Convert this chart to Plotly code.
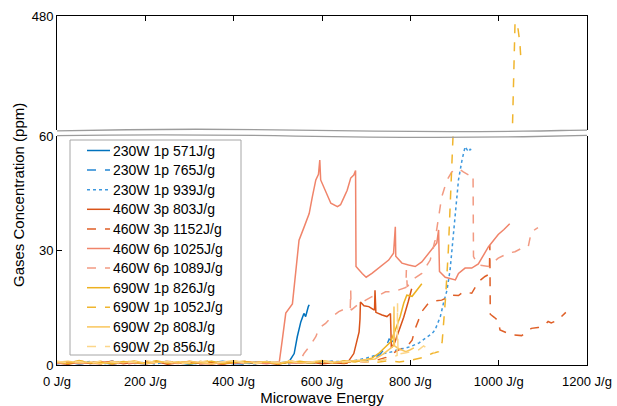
import plotly.graph_objects as go

# ---------------- data ----------------
grid = [0, 25, 50, 75, 100, 125, 150, 175, 200, 225, 250, 275, 300, 325, 350, 375,
        400, 425, 450, 475, 500, 525, 550, 575, 600, 625, 650, 675, 700, 725, 750, 775]

labels = ["230W 1p 571J/g", "230W 1p 765J/g", "230W 1p 939J/g",
          "460W 3p 803J/g", "460W 3p 1152J/g", "460W 6p 1025J/g", "460W 6p 1089J/g",
          "690W 1p 826J/g", "690W 1p 1052J/g", "690W 2p 808J/g", "690W 2p 856J/g"]

e_230_571 = grid[:21] + [525, 537, 544, 552, 559, 563, 569, 571]
v_230_571 = [0.6, 0.3, 0.9, 0.4, 0.7, 0.2, 0.8, 0.5, 0.3, 0.9, 0.4, 0.6, 0.2, 0.7, 0.5, 0.8, 0.3, 0.6, 0.4, 0.9, 0.5,
             0.8, 3.0, 7.4, 11.3, 13.5, 12.7, 15.3, 15.8]

e_230_765 = grid[:29] + [715, 730, 745, 752, 760, 765]
v_230_765 = [0.4, 0.8, 0.2, 0.7, 0.5, 1.0, 0.3, 0.6, 0.9, 0.2, 0.7, 0.4, 0.8, 0.3, 0.6, 1.0, 0.5, 0.2, 0.8, 0.4,
             0.7, 0.3, 0.9, 0.5, 0.6, 1.1, 0.8, 1.2, 1.0,
             1.8, 2.6, 4.8, 6.8, 6.2, 5.9]

e_230_939 = grid[:27] + [675, 700, 720, 744, 760, 775, 789, 804, 820, 834, 849, 856, 862, 868, 875, 883, 890, 896,
                         902, 909, 917, 924, 928, 932, 936, 939]
v_230_939 = [0.3, 0.7, 0.5, 0.9, 0.2, 0.6, 0.8, 0.4, 0.7, 0.3, 1.0, 0.5, 0.6, 0.2, 0.9, 0.4, 0.7, 0.5, 0.3, 0.8,
             0.6, 0.4, 0.9, 0.5, 0.7, 0.8, 1.0,
             1.2, 1.8, 2.5, 3.0, 3.5, 4.2, 4.4, 5.0, 5.8, 7.0, 8.2, 9.2, 11.0, 12.7, 16.2, 19.6, 24.9, 32.7,
             41.5, 48.5, 53.7, 57.2, 56.5, 55.9, 56.6, 55.8]

e_460_803 = grid[:27] + [657, 672, 684, 686, 687, 695, 706, 717, 719, 720, 721, 722, 736, 747, 755, 757, 765, 775,
                         785, 795, 803]
v_460_803 = [0.5, 0.2, 0.8, 0.4, 0.6, 1.0, 0.3, 0.7, 0.5, 0.9, 0.2, 0.6, 0.8, 0.4, 0.7, 0.3, 0.5, 0.9, 0.4, 0.6,
             0.2, 0.8, 0.5, 0.7, 0.3, 0.6, 0.4,
             0.5, 3.0, 8.7, 12.0, 16.5, 15.5, 15.3, 14.5, 14.5, 19.6, 14.2, 13.8, 13.1, 12.7, 13.5, 4.5, 6.0, 9.0,
             12.5, 16.5, 20.0]

e_460_1152 = grid[:30] + [745, 760, 774, 789, 804, 811, 826, 841, 856, 871, 894, 909, 920, 939, 954, 969, 979, 980,
                          981, 990, 999, 1003, 1018, 1029, 1052, 1067, 1074, 1089, 1104, 1112, 1119, 1134, 1146, 1152]
v_460_1152 = [0.7, 0.4, 0.9, 0.3, 0.6, 0.8, 0.2, 0.5, 1.0, 0.4, 0.7, 0.3, 0.6, 0.9, 0.5, 0.2, 0.8, 0.4, 0.6, 1.0,
              0.3, 0.7, 0.5, 0.8, 0.4, 0.9, 0.6, 1.0, 0.8, 1.3,
              2.0, 3.0, 4.0, 4.4, 6.5, 9.5, 14.0, 16.2, 16.8, 17.0, 18.3, 18.2, 19.2, 18.8, 21.8, 23.2, 23.8, 31.4,
              13.3, 12.5, 11.6, 9.2, 8.5, 7.9, 7.7, 9.0, 9.6, 9.8, 10.4, 11.4, 11.0, 11.8, 13.1, 13.8]

e_460_1025 = grid[:21] + [503, 510, 518, 533, 541, 548, 559, 571, 578, 586, 592, 595, 597, 608, 620, 635, 642, 650,
                          657, 665, 672, 676, 677, 691, 700, 713, 729, 751, 762, 766, 767, 781, 796, 811, 826, 838,
                          853, 860, 864, 866, 879, 902, 909, 924, 939, 954, 977, 999, 1012, 1025]
v_460_1025 = [0.4, 0.8, 0.3, 0.6, 0.9, 0.2, 0.7, 0.5, 0.3, 0.8, 0.6, 0.4, 1.0, 0.5, 0.2, 0.7, 0.4, 0.9, 0.6, 0.3, 0.7,
              0.5, 6.5, 13.6, 16.0, 24.0, 32.7, 36.0, 39.7, 44.0, 48.5, 50.0, 53.7, 48.5, 45.8, 42.4, 41.5, 42.0,
              44.0, 45.8, 49.0, 49.8, 51.0, 25.8, 24.0, 23.0, 24.0, 25.4, 27.5, 29.3, 36.2, 28.5, 26.7, 26.2, 25.8,
              27.0, 28.8, 31.0, 32.0, 35.4, 24.5, 23.0, 22.3, 24.0, 25.4, 25.4, 26.5, 31.0, 34.2, 35.5, 37.0]

e_460_1089 = grid[:22] + [548, 559, 571, 586, 593, 608, 623, 638, 653, 664, 665, 666, 680, 699, 713, 729, 744, 762,
                          774, 790, 791, 793, 804, 826, 845, 856, 871, 883, 894, 909, 920, 932, 939, 942, 943, 954,
                          977, 984, 999, 1022, 1037, 1052, 1067, 1074, 1082, 1089]
v_460_1089 = [0.6, 0.3, 0.8, 0.5, 0.2, 0.9, 0.4, 0.7, 0.3, 0.6, 1.0, 0.5, 0.8, 0.2, 0.6, 0.4, 0.9, 0.3, 0.7, 0.5,
              0.8, 0.4,
              0.6, 3.0, 4.8, 7.4, 9.6, 10.9, 12.7, 14.0, 14.8, 14.6, 19.6, 14.4, 15.7, 17.0, 17.9, 18.3, 19.2, 19.2,
              19.6, 20.3, 24.9, 20.5, 22.3, 24.0, 27.5, 32.7, 44.0, 48.5, 50.6, 51.5, 50.6, 49.8, 50.0, 50.0, 28.4,
              26.2, 25.8, 26.6, 28.0, 29.3, 29.7, 30.6, 31.0, 35.0, 35.5, 36.0]

e_690_826 = grid[:28] + [700, 713, 730, 744, 755, 766, 777, 785, 792, 804, 815, 823, 826]
v_690_826 = [0.8, 0.4, 1.0, 0.5, 0.7, 0.3, 0.9, 0.6, 0.4, 1.1, 0.5, 0.8, 0.3, 0.7, 1.0, 0.4, 0.6, 0.9, 0.5, 0.8,
             0.3, 0.7, 1.0, 0.6, 0.9, 0.5, 1.1, 0.8,
             1.4, 1.8, 3.2, 4.8, 6.0, 9.2, 12.7, 16.2, 18.3, 18.0, 19.6, 21.0, 21.3]

e_690_1052 = grid[:32] + [800, 830, 849, 864, 872, 876, 880, 886, 892, 898, 902, 960, 1020, 1031, 1037, 1042, 1048,
                          1051]
v_690_1052 = [0.9, 0.5, 1.2, 0.6, 0.8, 0.4, 1.0, 0.7, 0.5, 1.1, 0.6, 0.9, 0.4, 0.8, 1.2, 0.5, 0.7, 1.0, 0.6, 0.9,
              0.4, 1.1, 0.7, 0.5, 1.0, 0.8, 0.6, 1.2, 0.9, 0.7, 1.1, 0.8,
              1.2, 2.0, 3.0, 3.5, 6.0, 12.0, 18.0, 30.0, 45.0, 60.0, 75.0, 100.0, 120.0, 148.0, 459.0, 461.0,
              402.0, 344.0]

e_690_808 = grid[:29] + [720, 740, 755, 762, 763, 764, 775, 790, 800, 808]
v_690_808 = [0.7, 1.0, 0.5, 0.8, 0.3, 0.9, 0.6, 1.1, 0.4, 0.7, 0.9, 0.5, 1.0, 0.6, 0.3, 0.8, 1.1, 0.5, 0.7, 0.9,
             0.4, 1.0, 0.6, 0.8, 1.2, 0.7, 0.9, 1.1, 1.3,
             1.6, 3.0, 4.5, 5.0, 15.3, 5.0, 4.2, 3.5, 4.0, 4.5]

e_690_856 = grid[:30] + [745, 760, 770, 771, 772, 790, 810, 819, 830, 845, 856]
v_690_856 = [1.0, 0.6, 0.9, 0.4, 1.1, 0.7, 0.5, 0.8, 1.2, 0.6, 0.9, 0.3, 0.7, 1.0, 0.5, 0.8, 1.1, 0.6, 0.4, 0.9,
             0.7, 1.2, 0.5, 0.8, 1.0, 0.6, 0.9, 1.1, 0.8, 1.0,
             1.5, 2.0, 2.5, 16.2, 2.8, 3.2, 3.8, 4.0, 5.0, 3.8, 3.0]

x_ticks = [0, 200, 400, 600, 800, 1000, 1200]
x_tick_text = ["0 J/g", "200 J/g", "400 J/g", "600 J/g", "800 J/g", "1000 J/g", "1200 J/g"]
y_ticks_low = [0, 30, 60]
y_ticks_high = [480]

# ---------------- styles ----------------
series = [
    (e_230_571, v_230_571, "#0072BD", "solid"),
    (e_230_765, v_230_765, "#2386D3", "dash"),
    (e_230_939, v_230_939, "#3D98DE", "dot"),
    (e_460_803, v_460_803, "#D95319", "solid"),
    (e_460_1152, v_460_1152, "#DF5F27", "dash"),
    (e_460_1025, v_460_1025, "#F0846A", "solid"),
    (e_460_1089, v_460_1089, "#F29A82", "dash"),
    (e_690_826, v_690_826, "#EDB120", "solid"),
    (e_690_1052, v_690_1052, "#F0B52E", "dash"),
    (e_690_808, v_690_808, "#F9C65C", "solid"),
    (e_690_856, v_690_856, "#FCD68A", "dash"),
]

fig = go.Figure()
for (ex, vy, col, dash), lab in zip(series, labels):
    fig.add_trace(go.Scatter(x=ex, y=vy, mode="lines", name=lab, showlegend=False,
                             line=dict(color=col, width=1.5, dash=dash),
                             xaxis="x", yaxis="y"))
for (ex, vy, col, dash), lab in zip(series, labels):
    fig.add_trace(go.Scatter(x=ex, y=vy, mode="lines", name=lab, showlegend=False,
                             line=dict(color=col, width=1.5, dash=dash),
                             xaxis="x2", yaxis="y2"))

FONT = "Liberation Sans, Arial, sans-serif"
low_top = 0.656
high_bot = 0.672

L, R, T, B, W, H = 57, 30, 16, 41, 617, 406
PW, PH = W - L - R, H - T - B


def px_x(px):
    return (px - L) / PW


def px_y(py):
    return (H - B - py) / PH


common = dict(ticks="inside", ticklen=5, tickcolor="black", showline=True, linecolor="black",
              linewidth=1, showgrid=False, zeroline=False, automargin=False)

fig.update_layout(
    width=W, height=H,
    margin=dict(l=L, r=R, t=T, b=B, autoexpand=False),
    paper_bgcolor="white", plot_bgcolor="white",
    font=dict(family=FONT, size=13, color="black"),
    showlegend=False,
    xaxis=dict(domain=[0, 1], range=[0, 1200], tickvals=x_ticks, ticktext=x_tick_text,
               mirror=False, anchor="y", ticklabelstandoff=4,
               title=dict(text="Microwave Energy", font=dict(size=15), standoff=2), **common),
    yaxis=dict(domain=[0, low_top], range=[0, 60], tickvals=y_ticks_low,
               mirror=True, anchor="x", **common),
    xaxis2=dict(domain=[0, 1], range=[0, 1200], tickvals=x_ticks, showticklabels=False,
                side="top", mirror=False, anchor="y2", matches="x", **common),
    yaxis2=dict(domain=[high_bot, 1], range=[150, 480], tickvals=y_ticks_high,
                mirror=True, anchor="x2", **common),
)

# break marks (wavy edges of the two panels)
wave_col = "#9c9c9c"
fig.add_shape(type="path", xref="paper", yref="paper",
              path="M 0,0.671 C 0.15,0.676 0.3,0.677 0.45,0.673 C 0.6,0.669 0.75,0.668 0.88,0.670 C 0.94,0.671 0.97,0.673 1,0.673",
              line=dict(color=wave_col, width=1.3))
fig.add_shape(type="path", xref="paper", yref="paper",
              path="M 0,0.657 C 0.15,0.661 0.3,0.660 0.45,0.656 C 0.6,0.652 0.75,0.651 0.88,0.654 C 0.94,0.656 0.97,0.657 1,0.658",
              line=dict(color=wave_col, width=1.3))

# legend box (drawn as a framed panel listing each series)
box_l, box_r, box_t, box_b = 70, 241, 140, 355
fig.add_shape(type="rect", xref="paper", yref="paper",
              x0=px_x(box_l), x1=px_x(box_r), y0=px_y(box_b), y1=px_y(box_t),
              line=dict(color="#a6a6a6", width=1), fillcolor="white", layer="above")
row0, row_step = 150.5, 19.6
for i, ((ex, vy, col, dash), lab) in enumerate(zip(series, labels)):
    cy = px_y(row0 + i * row_step)
    fig.add_shape(type="line", xref="paper", yref="paper",
                  x0=px_x(87), x1=px_x(110), y0=cy, y1=cy,
                  line=dict(color=col, width=1.5, dash=dash), layer="above")
    fig.add_annotation(text=lab, xref="paper", yref="paper", x=px_x(111), y=cy,
                       xanchor="left", yanchor="middle", showarrow=False,
                       font=dict(family=FONT, size=14, color="black"))

fig.add_annotation(text="Gases Concentration (ppm)", xref="paper", yref="paper",
                   x=px_x(18), y=px_y(195), xanchor="center", yanchor="middle", textangle=-90,
                   showarrow=False, font=dict(family=FONT, size=15, color="black"))

fig.write_html("out.html")
